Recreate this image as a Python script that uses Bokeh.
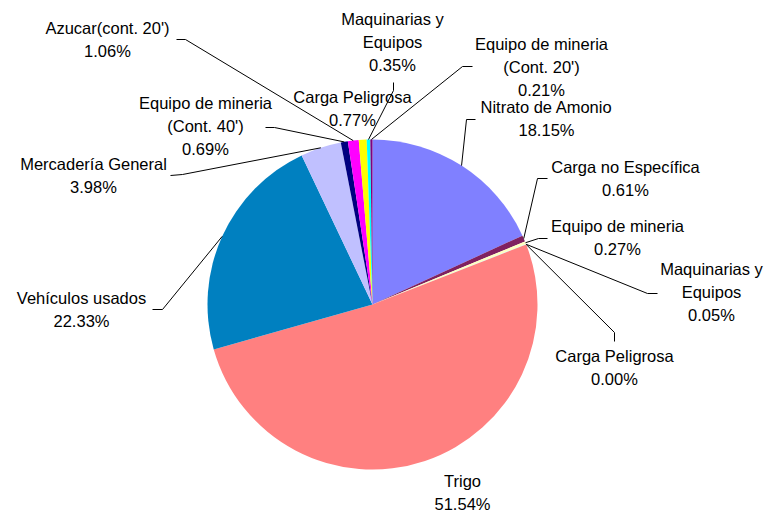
import math
from bokeh.plotting import figure
from bokeh.models import Range1d, ColumnDataSource
from bokeh.core.properties import value
from bokeh.embed import file_html
from bokeh.resources import INLINE

# ---- data ----
categories = [
    "Nitrato de Amonio", "Carga no Específica", "Equipo de mineria",
    "Maquinarias y\nEquipos", "Carga Peligrosa", "Trigo", "Vehículos usados",
    "Mercadería General", "Equipo de mineria\n(Cont. 40')", "Azucar(cont. 20')",
    "Carga Peligrosa", "Maquinarias y\nEquipos", "Equipo de mineria\n(Cont. 20')",
]
shares = [18.15, 0.61, 0.27, 0.05, 0.00, 51.54, 22.33, 3.98, 0.69, 1.06, 0.77, 0.35, 0.21]
colors = ["#8080FF", "#802060", "#FFFFC0", "#C0FFFF", "#600060", "#FF8080", "#0080C0",
          "#C0C0FF", "#000080", "#FF00FF", "#FFFF00", "#00FFFF", "#800080"]

# ---- layout (image pixel coordinates) ----
W, H = 767, 512
CX, CY, R = 372, 304, 165
label_pos = [(546, 106), (625, 166), (617, 225), (711, 268), (614, 355), (462, 480),
             (81, 297), (93, 163), (205, 102), (107, 27), (352, 96), (392, 18), (541, 43)]
leader_pts = [[(475, 119), (466, 119)], [(547, 178), (537, 178)], [(547, 238), (538, 238)],
              [(657, 293), (647, 293)], [(614, 341), (614, 332)], None,
              [(152, 309), (162, 309)], [(170, 175), (182, 174)], [(265, 127), (274, 127)],
              [(176, 39), (185, 39)], None, [(393, 82), (393, 90)], [(472, 66), (462, 66)]]
LINE_H = 23
FONT = "Liberation Sans"

def fy(y):  # image y -> data y
    return 512 - y

p = figure(width=W, height=H, output_backend="svg", toolbar_location=None,
           x_range=Range1d(0, W), y_range=Range1d(512 - H, 512),
           min_border=0, x_axis_location=None, y_axis_location=None)
p.grid.visible = False
p.outline_line_color = None
p.background_fill_color = "white"

total = sum(shares)
starts, ends, cols, mids = [], [], [], []
cum = 0.0
for v, c in zip(shares, colors):
    a0 = math.pi / 2 - 2 * math.pi * cum / total
    cum += v
    a1 = math.pi / 2 - 2 * math.pi * cum / total
    mids.append((a0 + a1) / 2)
    if v > 0:
        starts.append(a0); ends.append(a1); cols.append(c)

src = ColumnDataSource(dict(start=starts, end=ends, color=cols))
p.wedge(x=CX, y=fy(CY), radius=R, start_angle="start", end_angle="end",
        direction="clock", fill_color="color", line_color=None, source=src)

# leader lines
xs, ys = [], []
for pts, m in zip(leader_pts, mids):
    if pts is None:
        continue
    ex = CX + R * math.cos(m)
    ey = fy(CY) + R * math.sin(m)
    xs.append([pts[0][0], pts[1][0], ex])
    ys.append([fy(pts[0][1]), fy(pts[1][1]), ey])
p.multi_line(xs=xs, ys=ys, line_color="black", line_width=1)

# labels
tx, ty, tt = [], [], []
for name, v, (lx, ly) in zip(categories, shares, label_pos):
    lines = name.split("\n") + [f"{v:.2f}%"]
    for i, t in enumerate(lines):
        tx.append(lx); ty.append(fy(ly + i * LINE_H)); tt.append(t)
p.text(x=tx, y=ty, text=tt, text_align="center", text_baseline="middle",
       text_font=value(FONT), text_font_size="16.5px", text_color="black")

open("out.html", "w").write(file_html(p, INLINE))
